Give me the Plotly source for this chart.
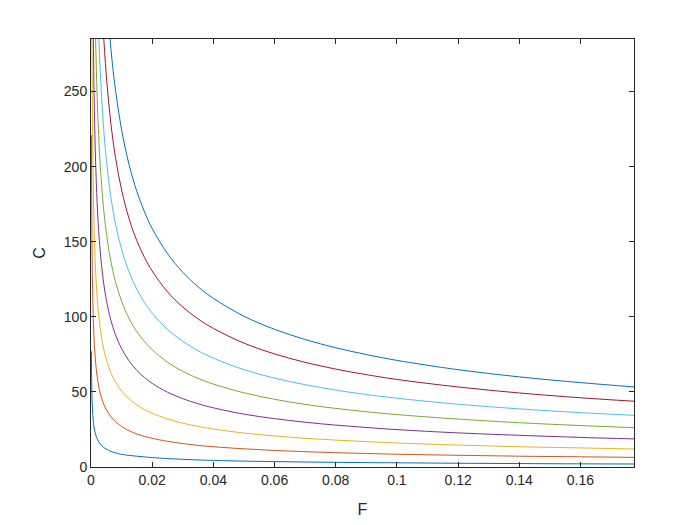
import plotly.graph_objects as go

F = [0.00013, 0.0002, 0.0003, 0.0004, 0.0006, 0.0008, 0.001, 0.0012, 0.0015, 0.002,
     0.0025, 0.003, 0.004, 0.005, 0.0065, 0.008, 0.01, 0.0125, 0.015, 0.0175,
     0.02, 0.025, 0.03, 0.035, 0.04, 0.05, 0.06, 0.07, 0.08, 0.09,
     0.10, 0.12, 0.14, 0.16, 0.1775]

c1 = [77.0, 59.4, 48.5, 42.0, 34.3, 29.7, 26.6, 24.2, 21.7, 18.8, 16.8, 15.3, 13.3, 11.9,
      10.4, 9.4, 8.4, 7.7, 7.2, 6.7, 6.3, 5.6, 5.1, 4.7, 4.4, 3.9, 3.6, 3.3, 3.1, 2.9,
      2.8, 2.5, 2.3, 2.1, 2.0]
c2 = [221.0, 190.9, 155.9, 135.0, 110.2, 95.5, 85.4, 77.9, 69.7, 60.4, 54.0, 49.3, 42.7,
      38.2, 33.5, 30.2, 27.0, 24.1, 22.0, 20.4, 19.1, 17.1, 15.6, 14.4, 13.5, 12.1, 11.0,
      10.2, 9.5, 9.0, 8.5, 7.8, 7.2, 6.8, 6.4]
c3 = [443.8, 357.8, 292.1, 253.0, 206.6, 178.9, 160.0, 146.1, 130.6, 113.1, 101.2, 92.4,
      80.0, 71.6, 62.8, 56.6, 50.6, 45.3, 41.3, 38.2, 35.8, 32.0, 29.2, 27.0, 25.3, 22.6,
      20.7, 19.1, 17.9, 16.9, 16.0, 14.6, 13.5, 12.7, 12.0]
c4 = [None] * 4 + [321.7, 278.6, 249.2, 227.5, 203.5, 176.2, 157.6, 143.9, 124.6, 111.4,
                   97.7, 88.1, 78.8, 70.5, 64.3, 59.6, 55.7, 49.8, 45.5, 42.1, 39.4, 35.2,
                   32.2, 29.8, 27.9, 26.3, 24.9, 22.7, 21.1, 19.7, 18.7]
c5 = [None] * 7 + [318.7, 285.1, 246.9, 220.8, 201.6, 174.6, 156.1, 136.9, 123.4, 110.4,
                   98.7, 90.1, 83.5, 78.1, 69.8, 63.7, 59.0, 55.2, 49.4, 45.1, 41.7, 39.0,
                   36.8, 34.9, 31.9, 29.5, 27.6, 26.2]
c6 = [None] * 9 + [324.0, 289.8, 264.5, 229.1, 204.9, 179.7, 162.0, 144.9, 129.6, 118.3,
                   109.5, 102.5, 91.6, 83.7, 77.4, 72.5, 64.8, 59.2, 54.8, 51.2, 48.3, 45.8,
                   41.8, 38.7, 36.2, 34.4]
c7 = [None] * 11 + [336.8, 291.7, 260.9, 228.8, 206.3, 184.5, 165.0, 150.6, 139.5, 130.5,
                    116.7, 106.5, 98.6, 92.3, 82.5, 75.3, 69.7, 65.2, 61.5, 58.3, 53.3,
                    49.3, 46.1, 43.8]
c8 = [None] * 12 + [355.1, 317.6, 278.6, 251.1, 224.6, 200.9, 183.4, 169.8, 158.8, 142.1,
                    129.7, 120.0, 112.3, 100.4, 91.7, 84.9, 79.4, 74.9, 71.0, 64.8, 60.0,
                    56.2, 53.3]

series = [c1, c2, c3, c4, c5, c6, c7, c8]
colors = ["#0072BD", "#D95319", "#EDB120", "#7E2F8E", "#77AC30", "#4DBEEE", "#A2142F", "#0072BD"]

x_ticks = [0, 0.02, 0.04, 0.06, 0.08, 0.1, 0.12, 0.14, 0.16]
x_tick_labels = ["0", "0.02", "0.04", "0.06", "0.08", "0.1", "0.12", "0.14", "0.16"]
y_ticks = [0, 50, 100, 150, 200, 250]
y_tick_labels = ["0", "50", "100", "150", "200", "250"]

fig = go.Figure()
for ys, col in zip(series, colors):
    fig.add_trace(go.Scatter(x=F, y=ys, mode="lines",
                             line=dict(color=col, width=1, shape="spline", smoothing=1.0),
                             connectgaps=False, showlegend=False))

font_family = "Liberation Sans, Arial, Helvetica"
axis_common = dict(showline=True, linecolor="#262626", linewidth=1, mirror="ticks",
                   ticks="inside", ticklen=5, tickcolor="#262626", showgrid=False,
                   zeroline=False, automargin=False,
                   tickfont=dict(family=font_family, size=14, color="#262626"))

fig.update_layout(
    width=700, height=525,
    margin=dict(l=83, r=74, t=31, b=66, pad=0),
    paper_bgcolor="white", plot_bgcolor="white",
    xaxis=dict(range=[0, 0.1775], tickvals=x_ticks, ticktext=x_tick_labels,
               title=dict(text="F", font=dict(family=font_family, size=16, color="#262626"),
                          standoff=17),
               **axis_common),
    yaxis=dict(range=[0, 285], tickvals=y_ticks, ticktext=y_tick_labels,
               title=dict(text="C", font=dict(family=font_family, size=16, color="#262626"),
                          standoff=14),
               **axis_common),
)

fig.write_html("out.html")
